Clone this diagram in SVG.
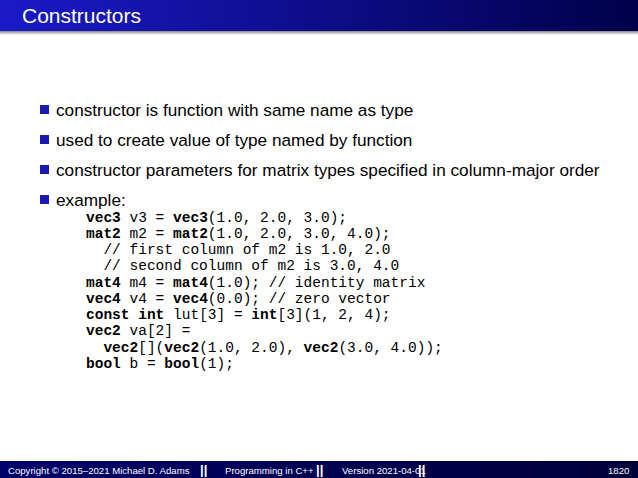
<svg xmlns="http://www.w3.org/2000/svg" width="638" height="478" viewBox="0 0 638 478">
<defs>
<linearGradient id="tb" x1="0" x2="1"><stop offset="0" stop-color="#1a1ac8"/><stop offset="1" stop-color="#00004a"/></linearGradient>
<linearGradient id="sh" x1="0" x2="0" y1="0" y2="1"><stop offset="0" stop-color="#888"/><stop offset="1" stop-color="#fff"/></linearGradient>
<linearGradient id="fb" x1="0" x2="1"><stop offset="0" stop-color="#00006a"/><stop offset="1" stop-color="#00003a"/></linearGradient>
<style>
.b{font-family:"Liberation Sans",Arial,sans-serif;font-size:17.2px;fill:#000}
.c{font-family:"Liberation Mono","Courier New",monospace;font-size:14.5px;fill:#000;white-space:pre}
.k{font-weight:bold}
.f{font-family:"Liberation Sans",Arial,sans-serif;font-size:9.6px;fill:#fff}
.s{font-family:"Liberation Sans",Arial,sans-serif;font-size:13px;font-weight:bold;fill:#fff}
</style>
</defs>
<rect width="638" height="478" fill="#fff"/>
<g id="title">
<rect x="0" y="0" width="638" height="31" fill="url(#tb)"/>
<rect x="0" y="31" width="638" height="4" fill="url(#sh)"/>
<text x="22" y="23" font-family="Liberation Sans,Arial,sans-serif" font-size="21" fill="#fff">Constructors</text>
</g>
<g id="bullets">
<rect x="40" y="105" width="9" height="9" fill="#1a1ab0"/>
<text class="b" x="56" y="116">constructor is function with same name as type</text>
<rect x="40" y="135" width="9" height="9" fill="#1a1ab0"/>
<text class="b" x="56" y="146">used to create value of type named by function</text>
<rect x="40" y="165" width="9" height="9" fill="#1a1ab0"/>
<text class="b" x="56" y="176">constructor parameters for matrix types specified in column-major order</text>
<rect x="40" y="195" width="9" height="9" fill="#1a1ab0"/>
<text class="b" x="56" y="206">example:</text>
</g>
<g id="code">
<text class="c" x="86" y="222"><tspan class="k">vec3</tspan> v3 = <tspan class="k">vec3</tspan>(1.0, 2.0, 3.0);</text>
<text class="c" x="86" y="238"><tspan class="k">mat2</tspan> m2 = <tspan class="k">mat2</tspan>(1.0, 2.0, 3.0, 4.0);</text>
<text class="c" x="86" y="254">  // first column of m2 is 1.0, 2.0</text>
<text class="c" x="86" y="270">  // second column of m2 is 3.0, 4.0</text>
<text class="c" x="86" y="287"><tspan class="k">mat4</tspan> m4 = <tspan class="k">mat4</tspan>(1.0); // identity matrix</text>
<text class="c" x="86" y="303"><tspan class="k">vec4</tspan> v4 = <tspan class="k">vec4</tspan>(0.0); // zero vector</text>
<text class="c" x="86" y="319"><tspan class="k">const int</tspan> lut[3] = <tspan class="k">int</tspan>[3](1, 2, 4);</text>
<text class="c" x="86" y="335"><tspan class="k">vec2</tspan> va[2] =</text>
<text class="c" x="86" y="352">  <tspan class="k">vec2</tspan>[](<tspan class="k">vec2</tspan>(1.0, 2.0), <tspan class="k">vec2</tspan>(3.0, 4.0));</text>
<text class="c" x="86" y="368"><tspan class="k">bool</tspan> b = <tspan class="k">bool</tspan>(1);</text>
</g>
<g id="footer">
<rect x="0" y="461" width="638" height="17" fill="url(#fb)"/>
<text class="f" x="8" y="473.5">Copyright © 2015–2021 Michael D. Adams</text>
<text class="s" x="200" y="474">||</text>
<text class="f" x="225" y="473.5">Programming in C++</text>
<text class="s" x="316" y="474">||</text>
<text class="f" x="342" y="473.5">Version 2021-04-01</text>
<text class="s" x="418" y="474">||</text>
<text class="f" x="608" y="473.5">1820</text>
</g>
</svg>
